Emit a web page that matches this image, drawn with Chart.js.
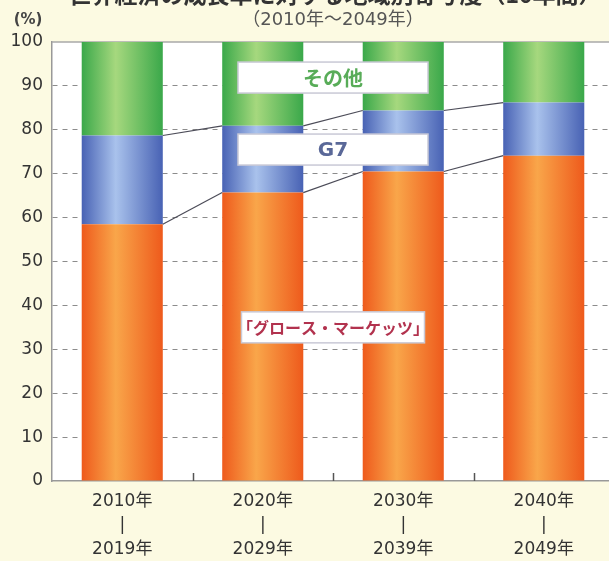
<!DOCTYPE html>
<html lang="ja">
<head>
<meta charset="utf-8">
<title>世界経済の成長率に対する地域別寄与度</title>
<script src="https://cdn.jsdelivr.net/npm/chart.js@4.4.1/dist/chart.umd.min.js"></script>
<style>
  html, body { margin: 0; padding: 0; background: #fcfae2; overflow: hidden; }
  #wrap { width: 609px; height: 561px; overflow: hidden; }
  canvas { display: block; }
</style>
</head>
<body>
<div id="wrap"><canvas id="chart" width="614" height="561"></canvas></div>
<script>
// ── Data ─────────────────────────────────────────────────────
var CATEGORIES = [
  ['2010年', '|', '2019年'],
  ['2020年', '|', '2029年'],
  ['2030年', '|', '2039年'],
  ['2040年', '|', '2049年']
];
var GROWTH = [58.5, 65.7, 70.5, 74.1];   // 「グロース・マーケッツ」
var G7     = [20.2, 15.2, 13.9, 12.1];
var OTHER  = [21.3, 19.1, 15.6, 13.8];   // その他
var Y_MIN = 0, Y_MAX = 100, Y_STEP = 10;

var TITLE    = '世界経済の成長率に対する地域別寄与度（10年間）';
var SUBTITLE = '（2010年～2049年）';
var UNIT     = '(%)';

// label boxes: at = category index (1.5 = between 2nd and 3rd), value = y
var NOTES = [
  { text: 'その他', at: 1.5, value: 91.9, color: '#58ac58', font: 'bold 20px "Noto Sans CJK JP"', w: 190 },
  { text: 'G7', at: 1.5, value: 75.5, color: '#5a6898', font: 'bold 20px "DejaVu Sans"', w: 190 },
  { text: '「グロース・マーケッツ」', at: 1.5, value: 35, color: '#b2324e', font: 'bold 16px "Noto Sans CJK JP"', w: 183 }
];

var BAR_PCT = 0.577;
var NUM_FONT = '"DejaVu Sans", "Noto Sans CJK JP", sans-serif';

// ── Gradient bars ────────────────────────────────────────────
function barGradient(edge, mid) {
  return function (c) {
    var chart = c.chart, xs = chart.scales.x;
    if (!xs || c.dataIndex === undefined || !chart.chartArea) return mid;
    var cx = xs.getPixelForValue(c.dataIndex);
    var w = xs.width / CATEGORIES.length * BAR_PCT;
    if (!isFinite(cx) || !isFinite(w) || w <= 0) return mid;
    var g = chart.ctx.createLinearGradient(cx - w / 2, 0, cx + w / 2, 0);
    g.addColorStop(0, edge);
    g.addColorStop(0.42, mid);
    g.addColorStop(1, edge);
    return g;
  };
}

// ── Plugins ──────────────────────────────────────────────────
var decor = {
  id: 'decor',
  beforeDraw: function (chart) {
    var a = chart.chartArea, ctx = chart.ctx;
    ctx.save();
    ctx.fillStyle = '#ffffff';
    ctx.fillRect(a.left, a.top, a.right - a.left, a.bottom - a.top);
    ctx.restore();
  },
  beforeDatasetsDraw: function (chart) {
    var a = chart.chartArea, ctx = chart.ctx, ys = chart.scales.y;
    // solid top line at 100
    ctx.save();
    ctx.strokeStyle = '#a8a8a8';
    ctx.lineWidth = 1.5;
    ctx.beginPath();
    ctx.moveTo(a.left, ys.getPixelForValue(Y_MAX));
    ctx.lineTo(a.right, ys.getPixelForValue(Y_MAX));
    ctx.stroke();
    ctx.restore();
  },
  afterDatasetsDraw: function (chart) {
    var ctx = chart.ctx, xs = chart.scales.x, ys = chart.scales.y;
    var bars = chart.getDatasetMeta(0).data;

    // connector lines between bars
    ctx.save();
    ctx.strokeStyle = '#4c4c58';
    ctx.lineWidth = 1.2;
    for (var i = 0; i < bars.length - 1; i++) {
      var x1 = bars[i].x + bars[i].width / 2;
      var x2 = bars[i + 1].x - bars[i + 1].width / 2;
      for (var k = 0; k < 2; k++) {
        var v1 = GROWTH[i] + (k ? G7[i] : 0);
        var v2 = GROWTH[i + 1] + (k ? G7[i + 1] : 0);
        ctx.beginPath();
        ctx.moveTo(x1, ys.getPixelForValue(v1));
        ctx.lineTo(x2, ys.getPixelForValue(v2));
        ctx.stroke();
      }
    }
    ctx.restore();

    // inward tick marks between categories
    ctx.save();
    ctx.strokeStyle = '#555';
    ctx.lineWidth = 1.5;
    var base = ys.getPixelForValue(Y_MIN);
    for (var j = 0; j < CATEGORIES.length - 1; j++) {
      var tx = Math.round((xs.getPixelForValue(j) + xs.getPixelForValue(j + 1)) / 2) + 0.5;
      ctx.beginPath();
      ctx.moveTo(tx, base);
      ctx.lineTo(tx, base - 8);
      ctx.stroke();
    }
    ctx.restore();

    // label boxes
    NOTES.forEach(function (n) {
      var cx = (xs.getPixelForValue(Math.floor(n.at)) + xs.getPixelForValue(Math.ceil(n.at))) / 2;
      var cy = ys.getPixelForValue(n.value);
      var h = 31;
      ctx.save();
      ctx.fillStyle = '#ffffff';
      ctx.fillRect(cx - n.w / 2, cy - h / 2, n.w, h);
      ctx.strokeStyle = '#c9c9d6';
      ctx.lineWidth = 1.5;
      ctx.strokeRect(cx - n.w / 2, cy - h / 2, n.w, h);
      ctx.fillStyle = n.color;
      ctx.font = n.font;
      ctx.textAlign = 'center';
      ctx.textBaseline = 'middle';
      ctx.fillText(n.text, cx, cy + 1);
      ctx.restore();
    });
  },
  afterDraw: function (chart) {
    var ctx = chart.ctx, a = chart.chartArea;
    var mid = (a.left + a.right) / 2;
    ctx.save();
    ctx.textAlign = 'center';
    ctx.fillStyle = '#333';
    ctx.font = 'bold 23px "Noto Sans CJK JP"';
    ctx.textBaseline = 'ideographic';
    ctx.fillText(TITLE, mid + 2, 5.5);
    ctx.fillStyle = '#555';
    ctx.font = '18px ' + NUM_FONT;
    ctx.textBaseline = 'middle';
    ctx.fillText(SUBTITLE, mid, 20);
    ctx.fillStyle = '#444';
    ctx.font = 'bold 15px ' + NUM_FONT;
    ctx.fillText(UNIT, 28, 20);
    ctx.restore();
  }
};

// ── Chart ────────────────────────────────────────────────────
new Chart(document.getElementById('chart').getContext('2d'), {
  type: 'bar',
  data: {
    labels: CATEGORIES,
    datasets: [
      { label: 'グロース・マーケッツ', data: GROWTH, backgroundColor: barGradient('#ee5a1c', '#f9a64a') },
      { label: 'G7', data: G7, backgroundColor: barGradient('#4862b4', '#a9c2ec') },
      { label: 'その他', data: OTHER, backgroundColor: barGradient('#3aa84a', '#a6d87e') }
    ]
  },
  options: {
    responsive: false,
    animation: false,
    layout: { padding: { top: 42, left: 0, right: 0, bottom: 0 } },
    datasets: { bar: { categoryPercentage: 1, barPercentage: BAR_PCT, borderWidth: 0 } },
    plugins: { legend: { display: false }, tooltip: { enabled: false } },
    scales: {
      x: {
        stacked: true,
        grid: { display: false, drawTicks: false },
        border: { display: true, color: '#999', width: 1.5 },
        afterFit: function (s) { s.height = 80; },
        ticks: {
          color: '#333',
          padding: 9,
          font: { family: NUM_FONT, size: 17, lineHeight: 1.4 }
        }
      },
      y: {
        stacked: true,
        min: Y_MIN,
        max: Y_MAX,
        afterFit: function (s) { s.width = 52; },
        grid: {
          drawTicks: false,
          lineWidth: 1,
          color: function (c) {
            var v = c.tick && c.tick.value;
            return (v === Y_MIN || v === Y_MAX) ? 'rgba(0,0,0,0)' : '#8c8c8c';
          }
        },
        border: { display: true, color: '#999', width: 1.5, dash: [5, 5] },
        ticks: {
          stepSize: Y_STEP,
          color: '#333',
          padding: 9,
          font: { family: NUM_FONT, size: 17 }
        }
      }
    }
  },
  plugins: [decor]
});
</script>
</body>
</html>
